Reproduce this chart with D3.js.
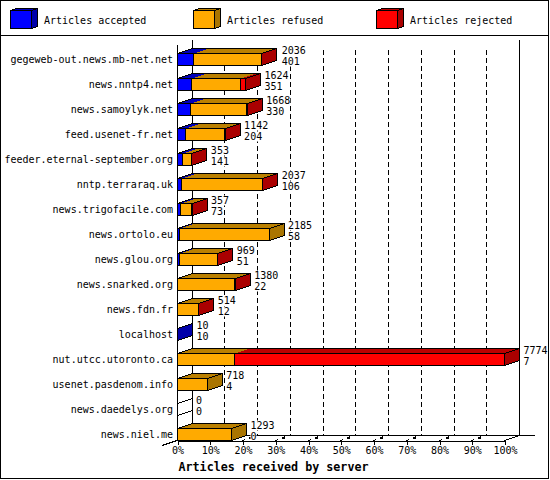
<!DOCTYPE html>
<html>
<head>
<meta charset="utf-8">
<script src="https://cdn.jsdelivr.net/npm/d3@7"></script>
<style>
html, body { margin: 0; padding: 0; background: #fff; }
svg { display: block; }
text { font-family: "DejaVu Sans Mono", monospace; font-size: 10px; fill: #000; }
.title { font-size: 11.7px; font-weight: bold; }
.crisp { shape-rendering: crispEdges; }
</style>
</head>
<body>
<script>
const servers = ["gegeweb-out.news.mb-net.net", "news.nntp4.net", "news.samoylyk.net", "feed.usenet-fr.net",
    "feeder.eternal-september.org", "nntp.terraraq.uk", "news.trigofacile.com", "news.ortolo.eu", "news.glou.org",
    "news.snarked.org", "news.fdn.fr", "localhost", "nut.utcc.utoronto.ca", "usenet.pasdenom.info",
    "news.daedelys.org", "news.niel.me"];
const accepted = [401, 351, 330, 204, 141, 106, 73, 58, 51, 22, 12, 10, 7, 4, 0, 0];
const refused = [1595, 1168, 1323, 928, 202, 1916, 274, 2127, 908, 1353, 492, 0, 1354, 714, 0, 1293];
const rejected = [20, 105, 15, 10, 10, 15, 10, 0, 10, 5, 10, 0, 6413, 0, 0, 0];
const totals = [2036, 1624, 1668, 1142, 353, 2037, 357, 2185, 969, 1380, 514, 10, 7774, 718, 0, 1293];
const percentTicks = [0, 10, 20, 30, 40, 50, 60, 70, 80, 90, 100];
const legendLabels = ["Articles accepted", "Articles refused", "Articles rejected"];
const front = ["#0000ff", "#ffaa00", "#ff0000"];
const topColor = ["#0000bb", "#bb8000", "#bb0000"];
const sideColor = ["#0000aa", "#aa7500", "#aa0000"];

const width = 550, height = 480;
const depthX = 15, depthY = 5;
const px = v => Math.floor(v) + 0.5;

const svg = d3.select("body").append("svg").attr("width", width).attr("height", height);

const x = d3.scaleLinear().domain([0, 7774]).range([177, 504.5]);
const pct = d3.scaleLinear().domain([0, 100]).range([177, 504.5]);
const y = d3.scaleBand().domain(servers).range([47, 447]);
const barH = 12;

function line(g, x1, y1, x2, y2) {
    return g.append("line").attr("class", "crisp").attr("x1", x1).attr("y1", y1).attr("x2", x2).attr("y2", y2)
        .attr("stroke", "#000");
}
function poly(g, pts, fill, stroke) {
    return g.append("polygon").attr("class", "crisp").attr("points", pts.map(p => p.join(",")).join(" "))
        .attr("fill", fill).attr("stroke", stroke || "none");
}

// frame and legend
svg.append("rect").attr("class", "crisp").attr("x", 0.5).attr("y", 0.5).attr("width", 548).attr("height", 478)
    .attr("fill", "#fff").attr("stroke", "#000");
line(svg, 0, 35.5, 549, 35.5);

const legendX = d3.scaleOrdinal().domain(legendLabels).range([10, 193, 376]);
legendLabels.forEach((name, i) => {
    const lx = legendX(name) + 0.5, g = svg.append("g");
    poly(g, [[lx, 10.5], [lx + 6, 8.5], [lx + 27, 8.5], [lx + 21, 10.5]], topColor[i], "#000");
    poly(g, [[lx + 21, 10.5], [lx + 27, 8.5], [lx + 27, 26.5], [lx + 21, 28.5]], sideColor[i], "#000");
    g.append("rect").attr("class", "crisp").attr("x", lx).attr("y", 10.5).attr("width", 21).attr("height", 18)
        .attr("fill", front[i]).attr("stroke", "#000");
    g.append("text").attr("x", lx + 33.5).attr("y", 20).attr("dy", "0.35em").text(name);
});

// walls
const base = 435.5;
const grid = svg.append("g");
line(grid, 177.5, 45, 177.5, base + 5);
line(grid, 192.5, 40, 192.5, base);
line(grid, 519.5, 40, 519.5, base);
line(grid, 192, base, 535, base);
line(grid, 162, base + 10, 192, base);
line(grid, px(pct(100)), base + 5, 519.5, base);
percentTicks.slice(1, -1).forEach(t => {
    const bx = px(pct(t) + depthX);
    line(grid, bx, 50, bx, base).attr("stroke-dasharray", "5 3");
    line(grid, px(pct(t)), base + 5, bx, base).attr("stroke-dasharray", "3 99");
    line(grid, px(pct(t)), base + 5, bx, base).attr("stroke-width", 2).attr("stroke-dasharray", "0 7 3 99");
});

// bars
const bars = svg.append("g");
servers.forEach((s, i) => {
    const y0 = y(s) + 6.5, g = bars.append("g");
    const vals = [accepted[i], refused[i], rejected[i]];
    let sum = 0;
    const segs = vals.map((v, k) => {
        const seg = { k, a: px(x(sum)), b: px(x(sum + v)), v };
        sum += v;
        return seg;
    });
    const x0 = px(x(0)), x1 = px(x(sum));
    const last = sum === 0 ? 0 : d3.max(segs.filter(d => d.v > 0), d => d.k);
    segs.filter(d => d.v > 0).forEach(d => {
        poly(g, [[d.a, y0], [d.a + depthX, y0 - depthY], [d.b + depthX, y0 - depthY], [d.b, y0]], topColor[d.k]);
    });
    poly(g, [[x0, y0], [x0 + depthX, y0 - depthY], [x1 + depthX, y0 - depthY], [x1, y0]], "none", "#000");
    poly(g, [[x1, y0], [x1 + depthX, y0 - depthY], [x1 + depthX, y0 - depthY + barH], [x1, y0 + barH]],
        sum === 0 ? "#fff" : sideColor[last], "#000");
    segs.filter(d => d.v > 0).forEach(d => {
        g.append("rect").attr("class", "crisp").attr("x", d.a).attr("y", y0)
            .attr("width", d.b - d.a).attr("height", barH).attr("fill", front[d.k]).attr("stroke", "#000");
    });
});

// value labels
servers.forEach((s, i) => {
    const lx = x(totals[i]) + depthX + 4, y0 = y(s) + 6.5;
    [[String(totals[i]), y0 - 3], [String(accepted[i]), y0 + 8]].forEach(([txt, cy]) => {
        svg.append("rect").attr("x", lx).attr("y", cy - 5).attr("width", txt.length * 6).attr("height", 10).attr("fill", "#fff");
        svg.append("text").attr("x", lx).attr("y", cy).attr("dy", "0.35em").text(txt);
    });
});

// category labels
svg.append("g").selectAll("text").data(servers).join("text")
    .attr("x", 173).attr("y", d => y(d) + 12.5).attr("dy", "0.35em").attr("text-anchor", "end").text(d => d);

// x axis
const axis = svg.append("g").attr("transform", `translate(0.5,${base + 5})`)
    .call(d3.axisBottom(pct).tickValues(percentTicks).tickFormat(d => d + "%").tickSize(4).tickPadding(2).tickSizeOuter(0));
axis.select(".domain").attr("class", "domain crisp").attr("stroke", "#000");
axis.selectAll("line").attr("class", "crisp");
axis.selectAll("text").style("font-family", "'DejaVu Sans Mono', monospace").style("font-size", "10px");

svg.append("text").attr("class", "title").attr("x", 273.5).attr("y", 467).attr("dy", "0.35em")
    .attr("text-anchor", "middle").text("Articles received by server");
</script>
</body>
</html>
